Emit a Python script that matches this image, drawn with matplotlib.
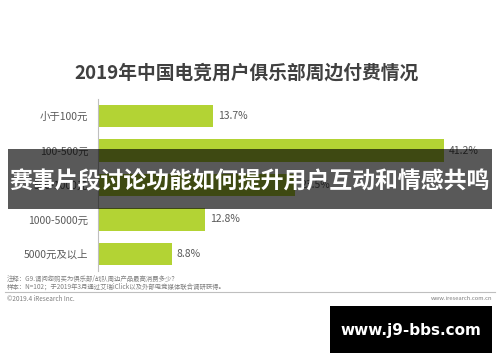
import matplotlib
matplotlib.use("Agg")
import matplotlib.pyplot as plt
from matplotlib.patches import Rectangle

plt.rcParams['font.family'] = ['Noto Sans CJK SC', 'DejaVu Sans']

title = "2019年中国电竞用户俱乐部周边付费情况"
categories = ["小于100元", "100-500元", "500-1000元", "1000-5000元", "5000元及以上"]
values = [13.7, 41.2, 23.5, 12.8, 8.8]
banner = "赛事片段讨论功能如何提升用户互动和情感共鸣"
note1 = "注释：G9.请问您购买为俱乐部/战队周边产品最高消费多少？"
note2 = "样本：N=102；于2019年3月通过艾瑞iClick以及外部电竞媒体联合调研获得。"
copyright_txt = "©2019.4 iResearch Inc."
site = "www.iresearch.com.cn"
watermark = "www.j9-bbs.com"

W, H = 500, 362
fig = plt.figure(figsize=(W / 100, H / 100), dpi=100)
fig.patch.set_facecolor("white")


def fx(px):
    return px / W


def fy(py):
    return 1 - py / H


# bar axes: x=0 at pixel 98, ~8.39 px per percent
ax = fig.add_axes([fx(98), fy(271.25), 45 * 8.39 / W, 172.5 / H])
ypos = list(range(len(categories)))
ax.barh(ypos, values, height=0.64, color="#b3d334")
ax.set_xlim(0, 45)
ax.set_ylim(4.5, -0.5)
ax.set_yticks(ypos)
ax.set_yticklabels(categories, fontsize=7.5, color="#595959")
ax.tick_params(axis="y", length=0, pad=7)
ax.set_xticks([])
for s in ["top", "right", "bottom"]:
    ax.spines[s].set_visible(False)
ax.spines["left"].set_color("#bfbfbf")
ax.spines["left"].set_linewidth(0.8)
ax.set_facecolor("none")
for y, v in zip(ypos, values):
    ax.text(v + 0.6, y, f"{v}%", va="center", ha="left", fontsize=7.5, color="#595959")

fig.text(fx(247), fy(73), title, ha="center", va="center", fontsize=13.5,
         fontweight="bold", color="#404040")

# footer
fig.text(fx(7), fy(279), note1, ha="left", va="center", fontsize=4.6, color="#7f7f7f")
fig.text(fx(7), fy(287), note2, ha="left", va="center", fontsize=4.6, color="#7f7f7f")
fig.add_artist(plt.Line2D([fx(5), fx(495)], [fy(292), fy(292)], color="#bfbfbf", lw=0.8))
fig.text(fx(7), fy(299), copyright_txt, ha="left", va="center", fontsize=4.6, color="#7f7f7f")
fig.text(fx(492), fy(298), site, ha="right", va="center", fontsize=4.2, color="#7f7f7f")

# overlay banner
fig.add_artist(Rectangle((fx(8), fy(209)), fx(484), 60 / H, transform=fig.transFigure,
                         facecolor="black", alpha=0.65, edgecolor="none"))
fig.text(fx(250), fy(182), banner, ha="center", va="center", fontsize=16.5,
         fontweight="bold", color="white")

# watermark box
fig.add_artist(Rectangle((fx(330), fy(353)), fx(162), 47 / H, transform=fig.transFigure,
                         facecolor="black", edgecolor="none"))
fig.text(fx(411), fy(330), watermark, ha="center", va="center", fontsize=11,
         fontweight="bold", color="white", family="DejaVu Sans")

fig.savefig("out.png", dpi=100)
